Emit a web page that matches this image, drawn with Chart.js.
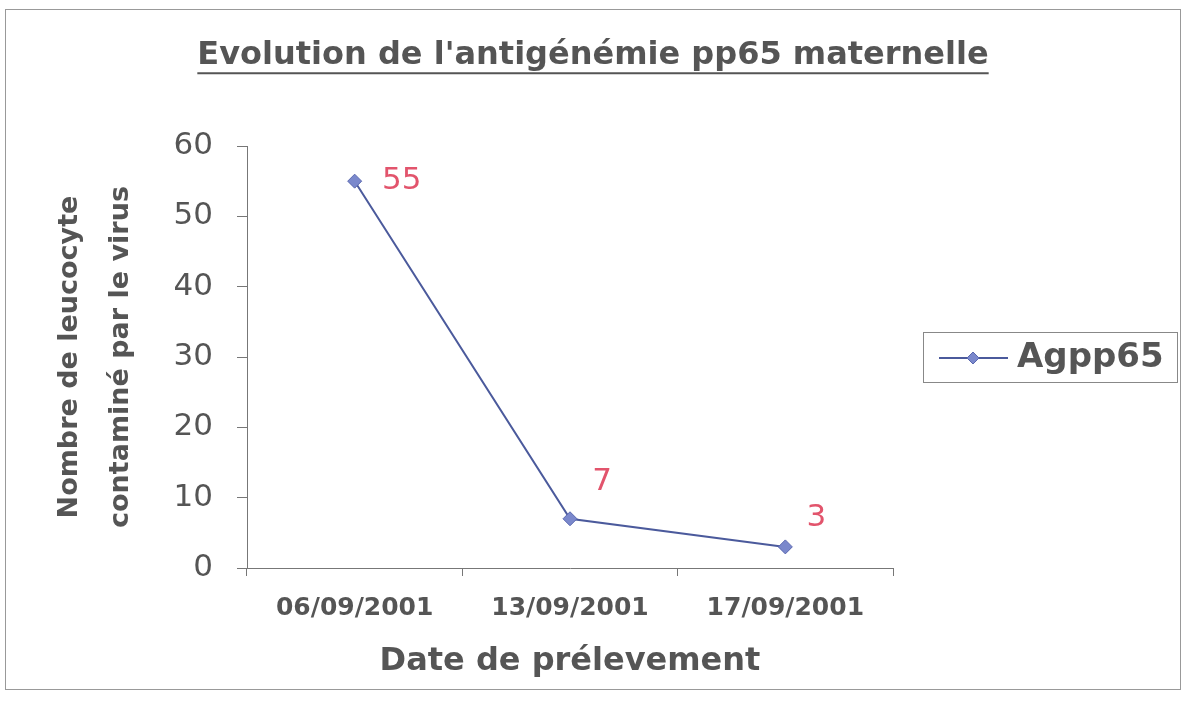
<!DOCTYPE html>
<html>
<head>
<meta charset="utf-8">
<script src="https://cdn.jsdelivr.net/npm/chart.js@4/dist/chart.umd.min.js"></script>
<style>
  html, body { margin: 0; padding: 0; background: #fff; }
  #wrap { width: 1186px; height: 711px; position: relative; }
</style>
</head>
<body>
<div id="wrap"><canvas id="chart"></canvas></div>
<script>
// data
const dates = ["06/09/2001", "13/09/2001", "17/09/2001"];
const agpp65 = [55, 7, 3];
const seriesName = "Agpp65";
const yTicks = [0, 10, 20, 30, 40, 50, 60];

const chartTitle = "Evolution de l'antigénémie pp65 maternelle";
const xTitle = "Date de prélevement";
const yTitle = ["Nombre de leucocyte", "contaminé par le virus"];

const lineColor = "#4b5a9c";
const markerColor = "#7a88cc";
const labelColor = "#e2546c";
const textColor = "#555";

Chart.defaults.font.family = "'DejaVu Sans', sans-serif";

// white page + thin frame like the scan
const framePlugin = {
  id: "frame",
  beforeDraw(chart) {
    const ctx = chart.ctx;
    ctx.save();
    ctx.fillStyle = "#fff";
    ctx.fillRect(0, 0, chart.width, chart.height);
    ctx.strokeStyle = "#999";
    ctx.lineWidth = 1;
    ctx.strokeRect(5.5, 9.5, 1175, 680);
    ctx.restore();
  }
};

// underline under the title
const underlinePlugin = {
  id: "underline",
  afterDraw(chart) {
    const t = chart.titleBlock;
    if (!t) return;
    const ctx = chart.ctx;
    const font = Chart.helpers.toFont(chart.options.plugins.title.font);
    ctx.save();
    ctx.font = font.string;
    const w = ctx.measureText(chartTitle).width;
    const cx = (t.left + t.right) / 2;
    const y = t.top + t.options.padding.top + font.lineHeight / 2 + 18;
    ctx.strokeStyle = "#555";
    ctx.lineWidth = 2;
    ctx.beginPath();
    ctx.moveTo(cx - w / 2, y);
    ctx.lineTo(cx + w / 2, y);
    ctx.stroke();
    ctx.restore();
  }
};

// value labels, moved by hand as in the original
const valueLabels = {
  id: "valueLabels",
  afterDatasetsDraw(chart) {
    const offsets = [[47, 0], [32, -37], [31, -29]];
    const ctx = chart.ctx;
    const meta = chart.getDatasetMeta(0);
    ctx.save();
    ctx.font = "31px 'DejaVu Sans', sans-serif";
    ctx.fillStyle = labelColor;
    ctx.textAlign = "center";
    ctx.textBaseline = "middle";
    meta.data.forEach((pt, i) => {
      const o = offsets[i] || [30, -30];
      ctx.fillText(String(chart.data.datasets[0].data[i]), pt.x + o[0], pt.y + o[1]);
    });
    ctx.restore();
  }
};

// boxed legend on the right: line + diamond + name
const boxLegend = {
  id: "boxLegend",
  afterDraw(chart) {
    const ctx = chart.ctx;
    const ds = chart.data.datasets[0];
    const bx = 923, by = 332, bw = 254, bh = 50;
    const cy = by + bh / 2 + 1;
    ctx.save();
    ctx.strokeStyle = "#888";
    ctx.lineWidth = 1;
    ctx.strokeRect(bx + 0.5, by + 0.5, bw, bh);
    ctx.strokeStyle = ds.borderColor;
    ctx.lineWidth = 2;
    ctx.beginPath();
    ctx.moveTo(bx + 16, cy);
    ctx.lineTo(bx + 85, cy);
    ctx.stroke();
    ctx.fillStyle = ds.pointBackgroundColor;
    ctx.strokeStyle = ds.pointBorderColor;
    ctx.lineWidth = 1;
    Chart.helpers.drawPoint(ctx, {
      pointStyle: "rectRot", radius: 6, borderWidth: 1, rotation: 0
    }, bx + 50, cy);
    ctx.font = "bold 34px 'DejaVu Sans', sans-serif";
    ctx.fillStyle = textColor;
    ctx.textAlign = "left";
    ctx.textBaseline = "middle";
    ctx.fillText(ds.label, bx + 94, cy);
    ctx.restore();
  }
};

new Chart(document.getElementById("chart"), {
  type: "line",
  data: {
    labels: dates,
    datasets: [{
      label: seriesName,
      data: agpp65,
      borderColor: lineColor,
      borderWidth: 2,
      pointStyle: "rectRot",
      pointRadius: 7,
      pointBackgroundColor: markerColor,
      pointBorderColor: "#5a68b0",
      pointBorderWidth: 1,
      tension: 0
    }]
  },
  options: {
    responsive: true,
    maintainAspectRatio: false,
    animation: false,
    layout: {
      padding: { top: 12, right: 0, bottom: 0, left: 0 }
    },
    plugins: {
      legend: { display: false },
      tooltip: { enabled: false },
      title: {
        display: true,
        text: chartTitle,
        color: textColor,
        font: { size: 32, weight: "bold" },
        padding: { top: 24, bottom: 71.6 }
      }
    },
    scales: {
      x: {
        offset: true,
        grid: {
          offset: true,
          drawOnChartArea: false,
          drawTicks: true,
          tickLength: 8,
          color: "#777"
        },
        border: { display: true, color: "#777", width: 1 },
        ticks: {
          color: textColor,
          font: { size: 25, weight: "bold" },
          padding: 17,
          maxRotation: 0
        },
        title: {
          display: true,
          text: xTitle,
          color: textColor,
          font: { size: 32, weight: "bold" },
          padding: { top: 0, bottom: 30 }
        },
        afterFit(scale) { scale.height = 143; }
      },
      y: {
        min: 0,
        max: 60,
        afterBuildTicks(scale) { scale.ticks = yTicks.map(v => ({ value: v })); },
        grid: {
          drawOnChartArea: false,
          drawTicks: true,
          tickLength: 10,
          color: "#777"
        },
        border: { display: true, color: "#777", width: 1 },
        ticks: {
          color: textColor,
          font: { size: 31 },
          padding: 24
        },
        title: {
          display: true,
          text: yTitle,
          color: textColor,
          font: { size: 27, weight: "bold", lineHeight: 1.9 },
          padding: { top: 44, bottom: 0 }
        },
        afterFit(scale) { scale.width = 247; }
      },
      // empty right-hand box that keeps room for the legend
      spacer: {
        type: "linear",
        position: "right",
        display: true,
        grid: { display: false },
        border: { display: false },
        ticks: { display: false },
        afterFit(scale) { scale.width = 293; }
      }
    }
  },
  plugins: [framePlugin, underlinePlugin, valueLabels, boxLegend]
});
</script>
</body>
</html>
